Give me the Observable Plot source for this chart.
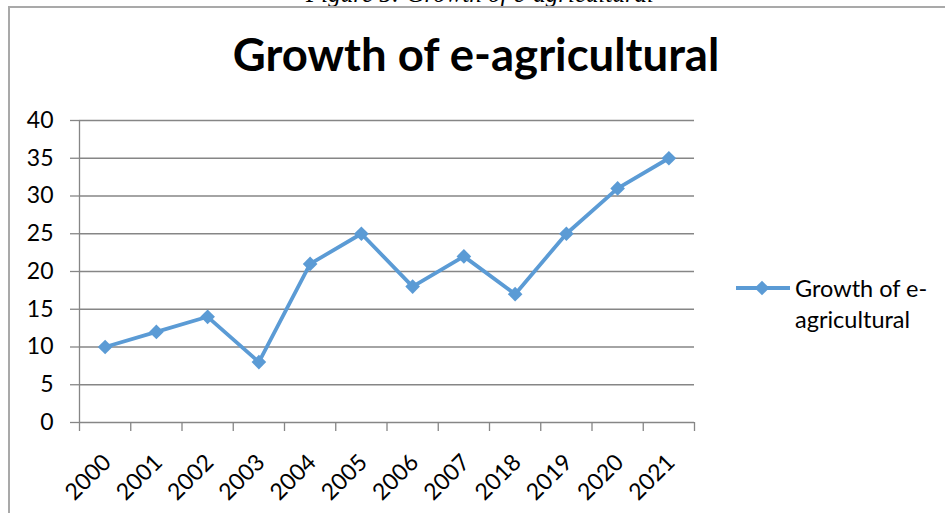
<!DOCTYPE html>
<html>
<head>
<meta charset="utf-8">
<script src="https://cdn.jsdelivr.net/npm/d3@7"></script>
<script src="https://cdn.jsdelivr.net/npm/@observablehq/plot@0.6"></script>
<style>
  html, body { margin: 0; padding: 0; background: #fff; width: 945px; height: 513px; overflow: hidden; }
  #caption { position: absolute; left: 0; width: 960px; top: -19px; text-align: center;
    font-family: "Liberation Serif", serif; font-style: italic; font-size: 25px; color: #000; line-height: 25px; }
  #frame { position: absolute; left: 8px; top: 6px; width: 960px; height: 600px;
    border-left: 2px solid #a9a9a9; border-top: 2px solid #a9a9a9; }
  #title { position: absolute; left: 0; width: 952px; top: 29px; text-align: center;
    font-family: Lato, sans-serif; font-weight: bold; font-size: 45.5px; line-height: 50px; color: #000; }
  #chart { position: absolute; left: 0; top: 100px; }
  #legend { position: absolute; left: 735px; top: 276px; font-family: Lato, sans-serif; font-size: 23.5px; line-height: 31px; color: #000; }
  #legend svg { position: absolute; left: 0; top: 0; }
  #legend .txt { position: absolute; left: 60px; top: -3px; white-space: nowrap; }
</style>
</head>
<body>
<div id="caption">Figure 5: Growth of e-agricultural</div>
<div id="frame"></div>
<div id="title">Growth of e-agricultural</div>
<div id="chart"></div>
<div id="legend"></div>
<script>
const years = ["2000","2001","2002","2003","2004","2005","2006","2007","2018","2019","2020","2021"];
const values = [10, 12, 14, 8, 21, 25, 18, 22, 17, 25, 31, 35];
const yTicks = [0, 5, 10, 15, 20, 25, 30, 35, 40];
const seriesName = "Growth of e-agricultural";

const color = "#5B9BD5";
const data = years.map((y, i) => ({year: y, pos: i + 0.5, value: values[i]}));
const boundaries = d3.range(0, years.length + 1);

const plot = Plot.plot({
  width: 945,
  height: 413,
  marginLeft: 79,
  marginRight: 251,
  marginTop: 20,
  marginBottom: 91,
  style: {fontFamily: "Lato, sans-serif", fontSize: "23px", color: "#000", background: "transparent", overflow: "visible"},
  x: {domain: [0, years.length], axis: null},
  y: {domain: [0, 40], axis: null},
  marks: [
    Plot.ruleY(yTicks, {stroke: "#868686", strokeWidth: 1.3}),
    Plot.ruleX([0], {stroke: "#868686", strokeWidth: 1.3}),
    Plot.axisY({ticks: yTicks, tickSize: 9, tickPadding: 17, label: null, fontSize: 23, stroke: "#868686", strokeWidth: 1.3, tickFormat: d => String(d), fill: "#000"}),
    Plot.axisX({ticks: boundaries, tickSize: 9, label: null, tickFormat: () => "", stroke: "#868686", strokeWidth: 1.3}),
    Plot.text(data, {x: "pos", y: () => 0, text: "year", rotate: -45, textAnchor: "end", lineAnchor: "middle", fontSize: 23, dx: 2, dy: 36, fill: "#000"}),
    Plot.line(data, {x: "pos", y: "value", stroke: color, strokeWidth: 3.8}),
    Plot.dot(data, {x: "pos", y: "value", symbol: "diamond2", r: 6.6, fill: color, stroke: "none"})
  ]
});
document.getElementById("chart").appendChild(plot);

// legend
const leg = document.getElementById("legend");
const sw = d3.create("svg").attr("width", 58).attr("height", 26);
sw.append("line").attr("x1", 1).attr("x2", 55).attr("y1", 12).attr("y2", 12).attr("stroke", color).attr("stroke-width", 3.8);
sw.append("path").attr("d", d3.symbol(d3.symbolDiamond2, Math.PI * 6.6 * 6.6)()).attr("transform", "translate(27,12)").attr("fill", color);
leg.appendChild(sw.node());
const t = document.createElement("div");
t.className = "txt";
t.innerHTML = "Growth of e-<br>agricultural";
leg.appendChild(t);
</script>
</body>
</html>
